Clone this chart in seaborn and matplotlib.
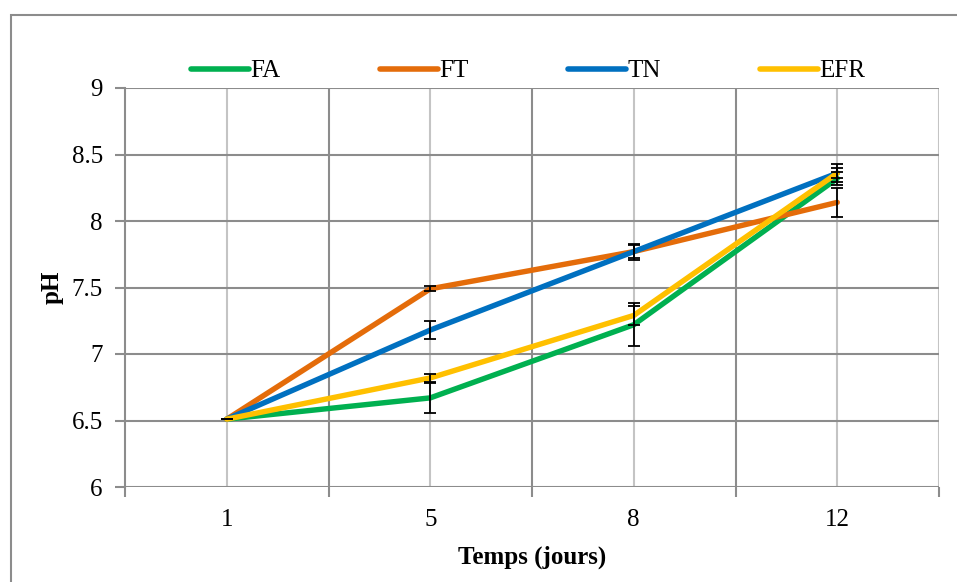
import numpy as np
import pandas as pd
import matplotlib
matplotlib.use("Agg")
import matplotlib.pyplot as plt
from matplotlib.lines import Line2D
from matplotlib.patches import Rectangle
import seaborn as sns

# ---- data ----
days = ["1", "5", "8", "12"]
series = ["FA", "FT", "TN", "EFR"]
fa = [6.51, 6.67, 7.22, 8.32]
ft = [6.51, 7.49, 7.77, 8.14]
tn = [6.51, 7.18, 7.77, 8.36]
efr = [6.51, 6.82, 7.29, 8.36]
fa_err = [0.0, 0.11, 0.16, 0.05]
ft_err = [0.0, 0.02, 0.05, 0.11]
tn_err = [0.0, 0.07, 0.06, 0.07]
efr_err = [0.0, 0.03, 0.07, 0.04]
colors = ["#00B050", "#E46C0A", "#0070C0", "#FFC000"]
yticks = [6, 6.5, 7, 7.5, 8, 8.5, 9]

vals = [fa, ft, tn, efr]
errs = [fa_err, ft_err, tn_err, efr_err]
pos = list(range(len(days)))
df = pd.DataFrame({
    "x": pos * len(series),
    "pH": sum(vals, []),
    "serie": sum([[s] * len(days) for s in series], []),
})

sns.set_theme(style="white")
plt.rcParams["font.family"] = ["Liberation Serif", "DejaVu Serif"]
plt.rcParams["text.color"] = "black"
plt.rcParams["axes.labelcolor"] = "black"

fig = plt.figure(figsize=(9.57, 5.82), dpi=100)
ax = fig.add_axes([125/957, 1-487/582, (939-125)/957, (487-88)/582])

sns.lineplot(data=df, x="x", y="pH", hue="serie", hue_order=series,
             palette=colors, linewidth=3.9, ax=ax, legend=False,
             solid_capstyle="round", solid_joinstyle="round", zorder=3)

for v, e in zip(vals, errs):
    ax.errorbar(pos, v, yerr=e, fmt="none", ecolor="black", elinewidth=1.3,
                capsize=4.5, capthick=1.3, zorder=5)

ax.set_xlim(-0.5, 3.5)
ax.set_ylim(6, 9)
ax.set_yticks(yticks)
ax.set_yticklabels([f"{t:g}" for t in yticks])
ax.set_xticks(pos)
ax.set_xticklabels(days)
ax.set_xticks([p + 0.5 for p in [-1] + pos], minor=True)

ax.tick_params(axis="x", which="major", length=0, pad=16, labelsize=18, labelcolor="black")
ax.tick_params(axis="x", which="minor", length=7, width=1.5, color="#8c8c8c", direction="out", bottom=True)
ax.tick_params(axis="y", which="major", length=7, width=1.5, color="#8c8c8c", pad=9,
               labelsize=18, left=True, direction="out", labelcolor="black")

ax.grid(False)
for p in pos:
    ax.axvline(p, color="#c4c4c4", lw=1.5, zorder=1)
for p in [0.5, 1.5, 2.5]:
    ax.axvline(p, color="#8c8c8c", lw=1.5, zorder=1)
ax.axvline(3.5, color="#c4c4c4", lw=1.5, zorder=1)
for t in yticks:
    ax.axhline(t, color="#8c8c8c", lw=1.5, zorder=1)

for s in ["top", "right", "bottom"]:
    ax.spines[s].set_visible(False)
ax.spines["left"].set_color("#8c8c8c")
ax.spines["left"].set_linewidth(1.5)

ax.set_xlabel("Temps (jours)", fontsize=18, fontweight="bold", labelpad=10, color="black")
ax.set_ylabel("pH", fontsize=18, fontweight="bold", labelpad=6, color="black")

handles = [Line2D([0], [0], color=c, lw=4, solid_capstyle="round") for c in colors]
leg = fig.legend(handles, series, loc="center", bbox_to_anchor=(0.552, 1-71/582), ncol=4,
                 frameon=False, fontsize=18, handlelength=2.3, handletextpad=0.05,
                 columnspacing=4.0)
for t in leg.get_texts():
    t.set_color("black")

fig.patches.append(Rectangle((11/957, -0.05), 1.2, 0.974 + 0.05, transform=fig.transFigure,
                             fill=False, edgecolor="#8c8c8c", lw=1.5))

fig.savefig("out.png", dpi=100)
